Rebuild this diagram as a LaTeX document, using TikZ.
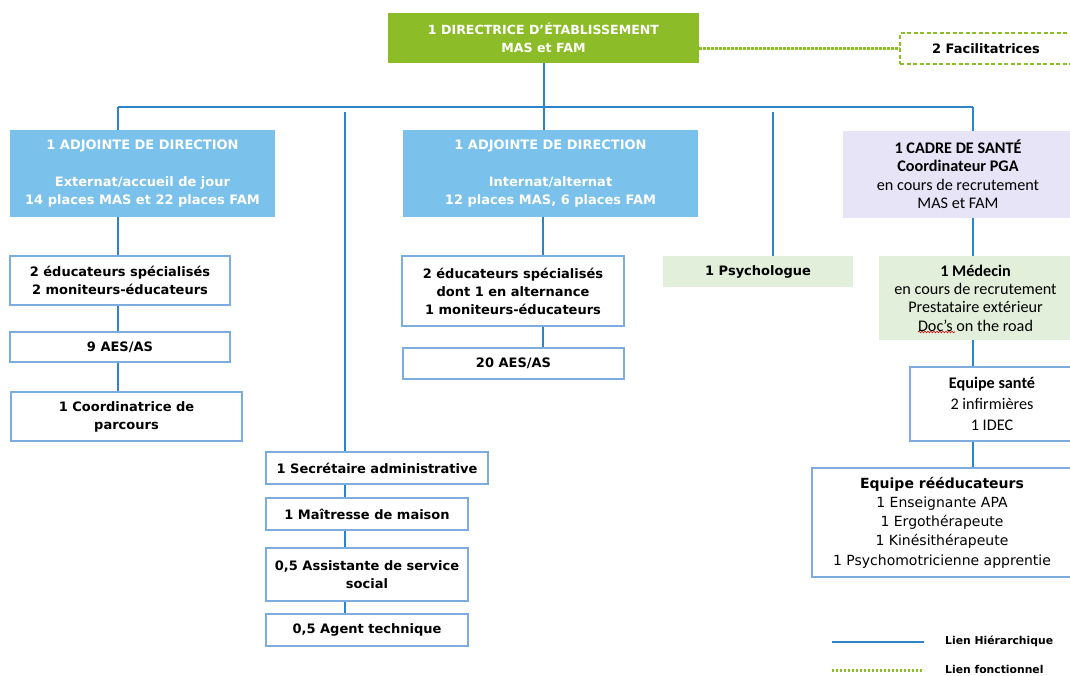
\documentclass[tikz,border=0pt]{standalone}
\usepackage{fontspec}
\setmainfont{DejaVu Sans}
\newfontfamily\calfont{Carlito}
\usetikzlibrary{decorations.pathmorphing}
\definecolor{dirgreen}{RGB}{140,188,40}
\definecolor{adjblue}{RGB}{122,193,235}
\definecolor{linkblue}{RGB}{45,132,200}
\definecolor{boxblue}{RGB}{125,172,222}
\definecolor{lav}{RGB}{232,228,248}
\definecolor{lgreen}{RGB}{226,239,218}
\definecolor{dotgreen}{RGB}{140,190,40}
\tikzset{
  hline/.style={draw=linkblue, line width=2.6pt},
  fline/.style={draw=dotgreen, line width=3pt, dash pattern=on 2.4pt off 1.6pt},
  base/.style={inner sep=0pt, align=center, font=\fontsize{13}{18}\selectfont\bfseries},
  wbox/.style={base, draw=boxblue, line width=1.4pt, fill=white},
  dirbox/.style={base, fill=dirgreen, text=white},
  adjbox/.style={base, fill=adjblue, text=white},
  lavbox/.style={base, fill=lav, font=\calfont\fontsize{16.2}{18.5}\selectfont},
  grbox/.style={base, fill=lgreen},
  facbox/.style={base, draw=dotgreen, line width=1.3pt, dash pattern=on 4pt off 2.5pt, fill=white},
  legtext/.style={inner sep=0pt, anchor=west, font=\fontsize{10.8}{13}\selectfont\bfseries}
}
\begin{document}
\begin{tikzpicture}[x=1pt,y=-1pt]
\clip (0,0) rectangle (1070,675);
\fill[white] (0,0) rectangle (1070,675);

% boxes
\node[dirbox, minimum width=311, minimum height=50, font=\fontsize{12.6}{18}\selectfont\bfseries] (dir) at (543.5,38) {1 DIRECTRICE D’ÉTABLISSEMENT\\MAS et FAM};
\node[facbox, minimum width=172, minimum height=31] (fac) at (986,48.5) {2 Facilitatrices};

\node[adjbox, minimum width=265, minimum height=87] (adj1) at (142.5,173.5) {1 ADJOINTE DE DIRECTION\\[19pt]Externat/accueil de jour\\14 places MAS et 22 places FAM};
\node[adjbox, minimum width=295, minimum height=87] (adj2) at (550.5,173.5) {1 ADJOINTE DE DIRECTION\\[19pt]Internat/alternat\\12 places MAS, 6 places FAM};
\node[lavbox, minimum width=230, minimum height=87] (cadre) at (958,174.5) {\bfseries 1 CADRE DE SANTÉ\\\bfseries Coordinateur PGA\\\mdseries en cours de recrutement\\\mdseries MAS et FAM};

\node[wbox, minimum width=220, minimum height=49] (e1) at (120,280.5) {2 éducateurs spécialisés\\2 moniteurs-éducateurs};
\node[wbox, minimum width=220, minimum height=30] (aes1) at (120,347) {9 AES/AS};
\node[wbox, minimum width=231, minimum height=49] (coord) at (126.5,416.5) {1 Coordinatrice de\\parcours};

\node[wbox, minimum width=222, minimum height=70] (e2) at (513,291) {2 éducateurs spécialisés\\dont 1 en alternance\\1 moniteurs-éducateurs};
\node[wbox, minimum width=221, minimum height=31] (aes2) at (513.5,363.5) {20 AES/AS};

\node[grbox, minimum width=190, minimum height=31] (psy) at (758,271.5) {1 Psychologue};

\node[grbox, minimum width=193, minimum height=84, font=\calfont\fontsize{16.2}{18.3}\selectfont] (med) at (975.5,298) {\bfseries 1 Médecin\\\mdseries en cours de recrutement\\\mdseries Prestataire extérieur\\\mdseries Doc’s on the road};
\node[wbox, minimum width=164, minimum height=74, font=\calfont\fontsize{16.2}{21}\selectfont] (sante) at (992,404) {\bfseries Equipe santé\\\mdseries 2 infirmières\\\mdseries 1 IDEC};
\node[wbox, minimum width=260, minimum height=109, font=\fontsize{14}{19.3}\selectfont] (reed) at (942,522.5) {\bfseries Equipe rééducateurs\\\mdseries 1 Enseignante APA\\\mdseries 1 Ergothérapeute\\\mdseries 1 Kinésithérapeute\\\mdseries 1 Psychomotricienne apprentie};

\node[wbox, minimum width=222, minimum height=32] (sec) at (377,468) {1 Secrétaire administrative};
\node[wbox, minimum width=202, minimum height=32] (mai) at (367,514) {1 Maîtresse de maison};
\node[wbox, minimum width=202, minimum height=53] (ass) at (367,574.5) {0,5 Assistante de service\\social};
\node[wbox, minimum width=202, minimum height=32] (agt) at (367,630) {0,5 Agent technique};

% bus coordinates
\coordinate (busL) at (118,107);
\coordinate (busM) at (544,107);
\coordinate (busR) at (973,107);
\coordinate (secTop) at (345,112);
\coordinate (psyTop) at (773,112);
\coordinate (colL) at (118,0);
\coordinate (colM) at (543,0);
\coordinate (colS) at (345,0);

% hierarchical links
\draw[hline] (busL) -- (busR);
\draw[hline] (dir.south -| busM) -- (adj2.north -| busM);
\draw[hline] (busL) -- (adj1.north -| busL);
\draw[hline] (busR) -- (cadre.north -| busR);
\draw[hline] (secTop) -- (sec.north -| secTop);
\draw[hline] (psyTop) -- (psy.north -| psyTop);

\draw[hline] (adj1.south -| colL) -- (e1.north -| colL);
\draw[hline] (e1.south -| colL) -- (aes1.north -| colL);
\draw[hline] (aes1.south -| colL) -- (coord.north -| colL);

\draw[hline] (adj2.south -| colM) -- (e2.north -| colM);
\draw[hline] (e2.south -| colM) -- (aes2.north -| colM);

\draw[hline] (sec.south -| colS) -- (mai.north -| colS);
\draw[hline] (mai.south -| colS) -- (ass.north -| colS);
\draw[hline] (ass.south -| colS) -- (agt.north -| colS);

\draw[hline] (cadre.south -| busR) -- (med.north -| busR);
\draw[hline] (med.south -| busR) -- (sante.north -| busR);
\draw[hline] (sante.south -| busR) -- (reed.north -| busR);

% functional link
\draw[fline] (fac.west -| dir.east) -- (fac.west);

% spell-check squiggle
\coordinate (sq1) at (918,332);
\coordinate (sq2) at (955,332);
\draw[red!85!black, line width=0.6pt, decorate, decoration={snake, amplitude=0.8pt, segment length=3pt}] (sq1) -- (sq2);

% legend
\coordinate (lh1) at (832,642);
\coordinate (lh2) at (924,642);
\coordinate (lf1) at (832,670);
\coordinate (lf2) at (924,670);
\draw[hline] (lh1) -- (lh2);
\draw[fline] (lf1) -- (lf2);
\node[legtext] (lhText) at (945,641) {Lien Hiérarchique};
\node[legtext] (lfText) at (945,669) {Lien fonctionnel};
\end{tikzpicture}
\end{document}
